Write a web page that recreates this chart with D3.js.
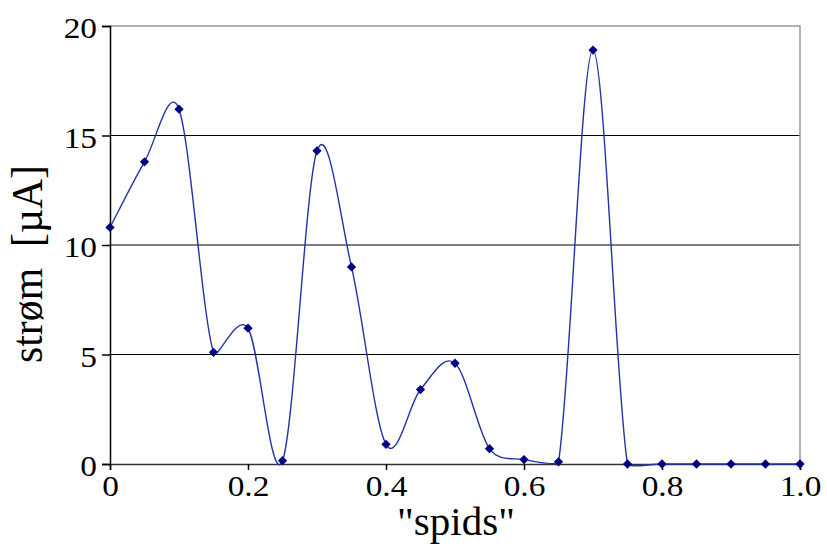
<!DOCTYPE html>
<html lang="da">
<head>
<meta charset="UTF-8">
<title>strøm</title>
<script src="https://cdn.jsdelivr.net/npm/d3@7"></script>
<style>
  body { margin: 0; background: #fff; }
</style>
</head>
<body>
<script>
const spids = [0, 0.05, 0.1, 0.15, 0.2, 0.25, 0.3, 0.35, 0.4, 0.45, 0.5,
               0.55, 0.6, 0.65, 0.7, 0.75, 0.8, 0.85, 0.9, 0.95, 1.0];
const strom = [10.8, 13.8, 16.2, 5.1, 6.2, 0.15, 14.3, 9.0, 0.9, 3.4, 4.6,
               0.7, 0.2, 0.1, 18.9, 0, 0, 0, 0, 0, 0];
const xTicks = [0, 0.2, 0.4, 0.6, 0.8, 1.0];
const yTicks = [0, 5, 10, 15, 20];

const FONT = "'Liberation Serif', 'Tinos', 'Times New Roman', 'DejaVu Serif', serif";
const W = 827, H = 547;
const margin = {top: 26, right: 27, bottom: 83, left: 110};
const w = W - margin.left - margin.right;
const h = H - margin.top - margin.bottom;

const svg = d3.select("body").append("svg")
    .attr("width", W).attr("height", H);

const x = d3.scaleLinear().domain([0, 1]).range([margin.left, margin.left + w]);
const y = d3.scaleLinear().domain([0, 20]).range([margin.top + h, margin.top]);

// gridlines
svg.append("g")
    .selectAll("line")
    .data(yTicks.filter(d => d > 0 && d < 20))
    .join("line")
    .attr("x1", x(0)).attr("x2", x(1))
    .attr("y1", d => y(d)).attr("y2", d => y(d))
    .attr("stroke", "#000").attr("stroke-width", 1);

// top / right frame
svg.append("path")
    .attr("d", `M${x(0)},${y(20)}H${x(1)}V${y(0)}`)
    .attr("fill", "none").attr("stroke", "#999").attr("stroke-width", 1.5);

// widen tick labels a little, like the original's stretched lettering
function widen(sel, k) {
    sel.each(function () {
        const len = this.getComputedTextLength();
        d3.select(this).attr("textLength", len * k).attr("lengthAdjust", "spacingAndGlyphs");
    });
}

const yAxis = svg.append("g")
    .attr("transform", `translate(${x(0)},0)`)
    .call(d3.axisLeft(y).tickValues(yTicks).tickSize(8).tickPadding(5).tickFormat(d3.format("d")));
yAxis.select(".domain").attr("stroke", "#000").attr("stroke-width", 1.5);
yAxis.selectAll(".tick line").attr("stroke", "#000").attr("stroke-width", 1.5);
yAxis.selectAll(".tick text").attr("font-size", 29).attr("font-family", FONT)
    .attr("fill", "#000").attr("dy", "0.4em").call(widen, 1.15);

const xAxis = svg.append("g")
    .attr("transform", `translate(0,${y(0)})`)
    .call(d3.axisBottom(x).tickValues(xTicks).tickSize(6).tickPadding(5)
        .tickFormat(d => d === 0 ? "0" : d3.format(".1f")(d)));
xAxis.select(".domain").attr("stroke", "#333").attr("stroke-width", 1.5);
xAxis.selectAll(".tick line").attr("stroke", "#000").attr("stroke-width", 1.5);
xAxis.selectAll(".tick text").attr("font-size", 29).attr("font-family", FONT)
    .attr("fill", "#000").call(widen, 1.15);

// axis titles
svg.append("text")
    .attr("transform", "translate(42,264) scale(1.1,1) rotate(-90)")
    .attr("text-anchor", "middle")
    .attr("font-family", FONT)
    .attr("font-size", 41)
    .attr("textLength", 198).attr("lengthAdjust", "spacingAndGlyphs")
    .text("strøm\u00a0 [µA]");

svg.append("text")
    .attr("x", 456).attr("y", 535)
    .attr("text-anchor", "middle")
    .attr("font-family", FONT)
    .attr("font-size", 41)
    .text("\"spids\"");

const pts = spids.map((s, i) => [x(s), y(strom[i])]);

// Excel-like smoothed line: Catmull-Rom tangents, arms shortened on short segments
function smooth(p) {
    const path = d3.path();
    path.moveTo(p[0][0], p[0][1]);
    for (let i = 0; i < p.length - 1; i++) {
        const p0 = p[Math.max(i - 1, 0)], p1 = p[i], p2 = p[i + 1], p3 = p[Math.min(i + 2, p.length - 1)];
        const seg = Math.hypot(p2[0] - p1[0], p2[1] - p1[1]);
        let a = [(p2[0] - p0[0]) / 6, (p2[1] - p0[1]) / 6];
        let b = [(p3[0] - p1[0]) / 6, (p3[1] - p1[1]) / 6];
        const la = Math.hypot(a[0], a[1]), lb = Math.hypot(b[0], b[1]);
        const sa = la > 0 ? Math.min(1, Math.pow(seg / (2 * la), 2)) : 1;
        const sb = lb > 0 ? Math.min(1, Math.pow(seg / (2 * lb), 2)) : 1;
        path.bezierCurveTo(p1[0] + a[0] * sa, p1[1] + a[1] * sa,
                           p2[0] - b[0] * sb, p2[1] - b[1] * sb,
                           p2[0], p2[1]);
    }
    return path.toString();
}

svg.append("path")
    .attr("fill", "none")
    .attr("stroke", "#2233aa")
    .attr("stroke-width", 1.4)
    .attr("d", smooth(pts));

svg.append("g")
    .selectAll("path")
    .data(pts)
    .join("path")
    .attr("transform", d => `translate(${d[0]},${d[1]})`)
    .attr("d", d3.symbol(d3.symbolDiamond2, 55))
    .attr("fill", "#000080");
</script>
</body>
</html>
